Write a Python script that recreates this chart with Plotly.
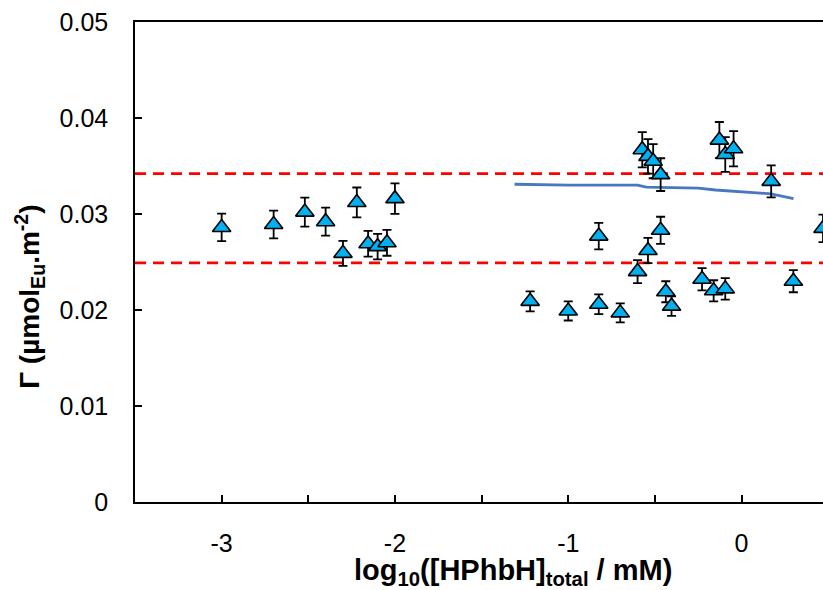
import plotly.graph_objects as go

# Measured surface excess versus total ligand concentration
log_conc = [-3.0, -2.70, -2.52, -2.40, -2.30, -2.22, -2.155, -2.10, -2.046, -2.0,
            -1.22, -1.0, -0.824, -0.824, -0.70, -0.60, -0.573, -0.54, -0.54, -0.51,
            -0.467, -0.467, -0.437, -0.404, -0.228, -0.161, -0.128, -0.094, -0.094,
            -0.046, 0.171, 0.299, 0.47]
gamma = [0.0286, 0.0289, 0.0302, 0.0292, 0.0259, 0.0312, 0.0269, 0.0266, 0.0270, 0.0316,
         0.0209, 0.0199, 0.0206, 0.0277, 0.0197, 0.0240, 0.0367, 0.0360, 0.0262, 0.0355,
         0.0341, 0.0283, 0.0219, 0.0204, 0.0232, 0.0220, 0.0377, 0.0362, 0.0222,
         0.0368, 0.0334, 0.0230, 0.0285]
gamma_err_pct = 5

# Model curve
model_x = [-1.31, -1.0, -0.60, -0.55, -0.25, -0.15, 0.17, 0.30]
model_y = [0.0331, 0.0330, 0.0330, 0.0328, 0.0327, 0.0325, 0.0321, 0.0316]

# Band limits (dashed red lines)
band_limits = [0.0249, 0.0342]

x_ticks = [-3, -2.5, -2, -1.5, -1, -0.5, 0]
x_tick_text = ["-3", "", "-2", "", "-1", "", "0"]
y_ticks = [0, 0.01, 0.02, 0.03, 0.04, 0.05]
y_tick_text = ["0", "0.01", "0.02", "0.03", "0.04", "0.05"]

FONT = "Liberation Sans, Arial, sans-serif"

fig = go.Figure()

fig.add_trace(go.Scatter(
    x=model_x, y=model_y, mode="lines",
    line=dict(color="#4a78c0", width=2.8),
    showlegend=False, hoverinfo="skip",
))

fig.add_trace(go.Scatter(
    x=log_conc, y=gamma, mode="markers",
    marker=dict(symbol="triangle-up", size=16, color="#00b0f0",
                line=dict(color="black", width=1.6)),
    error_y=dict(type="percent", value=gamma_err_pct, color="black",
                 thickness=1.8, width=4.5),
    showlegend=False,
))

for lim in band_limits:
    fig.add_shape(type="line", xref="paper", x0=0, x1=1, yref="y", y0=lim, y1=lim,
                  line=dict(color="#ff0000", width=2.8, dash="11px,7px"), layer="below")

fig.update_layout(
    width=823, height=590,
    margin=dict(l=135, r=0, t=22, b=88),
    paper_bgcolor="white", plot_bgcolor="white",
    font=dict(family=FONT, size=25, color="black"),
    xaxis=dict(
        range=[-3.5, 0.47], tickvals=x_ticks, ticktext=x_tick_text,
        ticks="inside", ticklen=7, tickwidth=1.5, tickcolor="black",
        showline=True, linecolor="black", linewidth=1.5, mirror=True,
        showgrid=False, zeroline=False, ticklabelstandoff=18,
        tickfont=dict(size=25),
    ),
    yaxis=dict(
        range=[0, 0.05], tickvals=y_ticks, ticktext=y_tick_text,
        ticks="inside", ticklen=7, tickwidth=1.5, tickcolor="black",
        showline=True, linecolor="black", linewidth=1.5,
        showgrid=False, zeroline=False, ticklabelstandoff=20,
        tickfont=dict(size=25),
    ),
    annotations=[
        dict(text="<b>log<sub>10</sub>([HPhbH]<sub>total</sub> / mM)</b>",
             xref="paper", yref="paper", x=0.549, y=-0.146,
             xanchor="center", yanchor="middle", showarrow=False,
             font=dict(size=29, family=FONT)),
        dict(text="<b>Γ (µmol<sub>Eu</sub>.m<sup>-2</sup>)</b>",
             xref="paper", yref="paper", x=-0.153, y=0.427,
             xanchor="center", yanchor="middle", textangle=-90, showarrow=False,
             font=dict(size=28, family=FONT)),
    ],
)

fig.write_html("out.html")
